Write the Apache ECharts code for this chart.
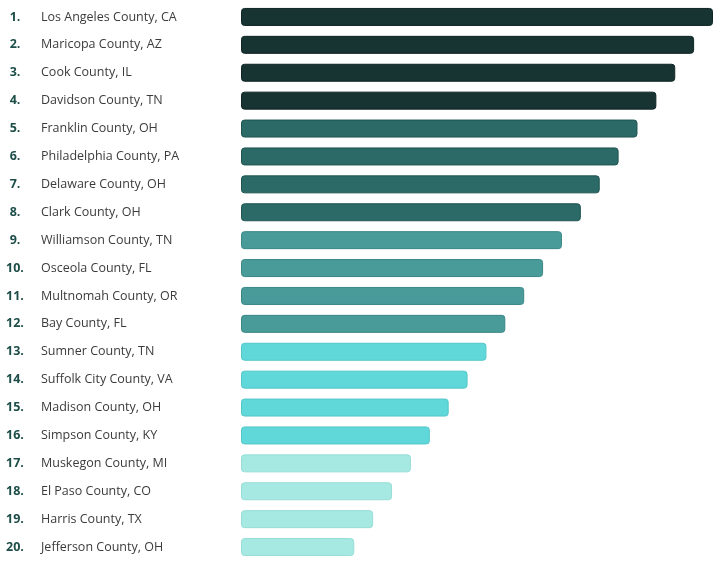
<!DOCTYPE html>
<html>
<head>
<meta charset="utf-8">
<script src="https://cdn.jsdelivr.net/npm/echarts@6/dist/echarts.min.js"></script>
<style>
  html, body { margin: 0; padding: 0; background: #fff; }
  #chart { width: 720px; height: 567px; }
</style>
</head>
<body>
<div id="chart"></div>
<script>
// ranked counties, top to bottom
var counties = [
  'Los Angeles County, CA', 'Maricopa County, AZ', 'Cook County, IL', 'Davidson County, TN',
  'Franklin County, OH', 'Philadelphia County, PA', 'Delaware County, OH', 'Clark County, OH',
  'Williamson County, TN', 'Osceola County, FL', 'Multnomah County, OR', 'Bay County, FL',
  'Sumner County, TN', 'Suffolk City County, VA', 'Madison County, OH', 'Simpson County, KY',
  'Muskegon County, MI', 'El Paso County, CO', 'Harris County, TX', 'Jefferson County, OH'
];
var ranks = ['1.', '2.', '3.', '4.', '5.', '6.', '7.', '8.', '9.', '10.',
  '11.', '12.', '13.', '14.', '15.', '16.', '17.', '18.', '19.', '20.'];
// relative bar length (no axis shown)
var scores = [100, 96, 92, 88, 84, 80, 76, 72, 68, 64, 60, 56, 52, 48, 44, 40, 36, 32, 28, 24];
// colour tier of each bar (0 = darkest)
var tiers = [0, 0, 0, 0, 1, 1, 1, 1, 2, 2, 2, 2, 3, 3, 3, 3, 4, 4, 4, 4];

var tierFill = ['#173332', '#2c6a67', '#489b99', '#60d8da', '#a6e8e2'];
var tierEdge = ['#0f2625', '#1f5451', '#3a8785', '#52c6c8', '#97ddd7'];

var chart = echarts.init(document.getElementById('chart'));

chart.setOption({
  animation: false,
  grid: { left: 241, right: 7, top: 3, bottom: 6 },
  xAxis: {
    type: 'value', min: 0, max: 100,
    show: false
  },
  yAxis: {
    type: 'category',
    inverse: true,
    data: counties,
    axisLine: { show: false },
    axisTick: { show: false },
    splitLine: { show: false },
    axisLabel: {
      align: 'left',
      margin: 241,
      formatter: function (name, i) {
        return '{r|' + ranks[i] + '}{n|' + name + '}';
      },
      rich: {
        r: {
          width: 30, align: 'center',
          fontFamily: 'Open Sans', fontWeight: 'bold', fontSize: 12.5, color: '#1d4d48'
        },
        n: {
          padding: [0, 0, 0, 11],
          fontFamily: 'Open Sans', fontSize: 12.5, color: '#3b3b3b'
        }
      }
    }
  },
  series: [{
    type: 'bar',
    barWidth: 18,
    data: scores.map(function (v, i) {
      return {
        value: v,
        itemStyle: {
          color: tierFill[tiers[i]],
          borderColor: tierEdge[tiers[i]],
          borderWidth: 1,
          borderRadius: 3
        }
      };
    })
  }]
});
</script>
</body>
</html>
